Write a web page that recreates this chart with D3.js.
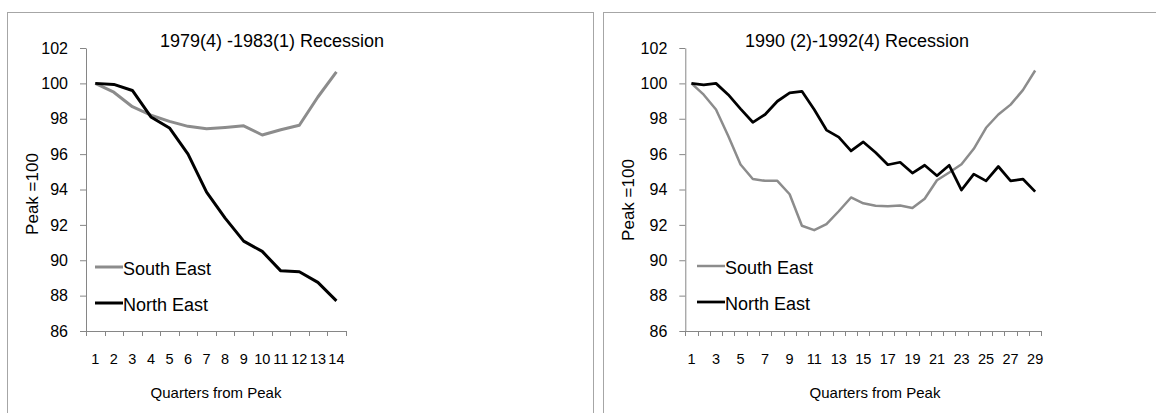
<!DOCTYPE html>
<html>
<head>
<meta charset="utf-8">
<script src="https://cdn.jsdelivr.net/npm/d3@7/dist/d3.min.js"></script>
<style>
body { margin: 0; background: #fff; }
svg text { font-family: "Liberation Sans", Arial, sans-serif; fill: #000; }
</style>
</head>
<body>
<svg id="chart" width="1156" height="413"></svg>
<script>
// 1979(4) - 1983(1) recession, index peak = 100
var quartersA = ["1","2","3","4","5","6","7","8","9","10","11","12","13","14"];
var southEastA = [100, 99.5, 98.68, 98.2, 97.85, 97.57, 97.43, 97.51, 97.6, 97.08, 97.38, 97.63, 99.23, 100.65];
var northEastA = [100, 99.94, 99.6, 98.1, 97.48, 96.0, 93.85, 92.38, 91.08, 90.5, 89.4, 89.35, 88.75, 87.7];

// 1990(2) - 1992(4) recession
var quartersB = ["1","2","3","4","5","6","7","8","9","10","11","12","13","14","15",
                 "16","17","18","19","20","21","22","23","24","25","26","27","28","29"];
var labelsB = ["1","3","5","7","9","11","13","15","17","19","21","23","25","27","29"];
var southEastB = [100, 99.36, 98.52, 97.02, 95.41, 94.59, 94.49, 94.49, 93.73, 91.95,
                  91.7, 92.04, 92.77, 93.55, 93.22, 93.08, 93.05, 93.09, 92.95, 93.48,
                  94.52, 94.96, 95.43, 96.3, 97.49, 98.24, 98.8, 99.62, 100.73];
var northEastB = [100, 99.92, 100.0, 99.36, 98.56, 97.8, 98.24, 98.99, 99.46, 99.55,
                  98.52, 97.36, 96.96, 96.18, 96.69, 96.09, 95.4, 95.54, 94.93, 95.37,
                  94.78, 95.37, 93.97, 94.87, 94.49, 95.3, 94.49, 94.59, 93.88];

var yTicks = [86, 88, 90, 92, 94, 96, 98, 100, 102];
var seriesNames = ["South East", "North East"];

var svg = d3.select("#chart");
var axisColor = "#868686";
var grey = "#8c8c8c";

function drawPanel(cfg) {
    var g = svg.append("g");

    // panel border (runs off the bottom of the picture)
    g.append("rect")
        .attr("x", cfg.frameX + 0.5)
        .attr("y", 12.5)
        .attr("width", cfg.frameW)
        .attr("height", 450)
        .attr("fill", "none")
        .attr("stroke", "#a6a6a6");

    var x = d3.scaleBand().domain(cfg.quarters).range([cfg.left, cfg.right]);
    var y = d3.scaleLinear().domain([86, 102]).range([331, 48]);

    var yAxis = g.append("g")
        .attr("transform", "translate(" + cfg.left + ",0)")
        .attr("color", axisColor)
        .call(d3.axisLeft(y).tickValues(yTicks).tickSize(6).tickSizeOuter(0).tickPadding(12));
    yAxis.selectAll("text").style("font-size", "16px").attr("fill", "#000");

    var xAxis = g.append("g")
        .attr("transform", "translate(0,331)")
        .attr("color", axisColor)
        .call(d3.axisBottom(x).tickValues(cfg.labels).tickSize(0).tickSizeOuter(0).tickPadding(23));
    xAxis.selectAll("text").style("font-size", "14.5px").attr("fill", "#000");

    // excel puts the tick marks between the categories
    var bounds = cfg.quarters.map(function(q){ return x(q); }).concat([x.range()[1]]);
    g.selectAll(".qtick").data(bounds).enter().append("line")
        .attr("class", "qtick")
        .attr("x1", function(d){ return Math.round(d) + 0.5; })
        .attr("x2", function(d){ return Math.round(d) + 0.5; })
        .attr("y1", 331)
        .attr("y2", 336)
        .attr("stroke", axisColor);

    var line = d3.line()
        .x(function(d, i){ return x(cfg.quarters[i]) + x.bandwidth() / 2; })
        .y(function(d){ return y(d); });

    var series = [
        {name: seriesNames[0], values: cfg.southEast, color: grey, width: cfg.greyWidth},
        {name: seriesNames[1], values: cfg.northEast, color: "#000", width: cfg.blackWidth}
    ];

    series.forEach(function(s, k){
        g.append("path")
            .datum(s.values)
            .attr("d", line)
            .attr("fill", "none")
            .attr("stroke", s.color)
            .attr("stroke-width", s.width)
            .attr("stroke-linejoin", "round");

        var ly = cfg.legendY[k];
        g.append("line")
            .attr("x1", cfg.legendX)
            .attr("x2", cfg.legendX + 28)
            .attr("y1", ly)
            .attr("y2", ly)
            .attr("stroke", s.color)
            .attr("stroke-width", s.width);
        g.append("text")
            .attr("x", cfg.legendX + 28)
            .attr("y", ly + 8)
            .style("font-size", "18px")
            .text(s.name);
    });

    g.append("text")
        .attr("x", cfg.titleX)
        .attr("y", 47)
        .attr("text-anchor", "middle")
        .style("font-size", "18px")
        .text(cfg.title);

    g.append("text")
        .attr("x", cfg.xTitleX)
        .attr("y", 398)
        .attr("text-anchor", "middle")
        .style("font-size", "15px")
        .text("Quarters from Peak");

    g.append("text")
        .attr("transform", "translate(" + cfg.yLabelX + "," + cfg.yLabelY + ") rotate(-90)")
        .attr("text-anchor", "middle")
        .style("font-size", "17px")
        .text("Peak =100");
}

drawPanel({
    frameX: 7, frameW: 586,
    left: 86, right: 345.7,
    quarters: quartersA, labels: quartersA,
    southEast: southEastA, northEast: northEastA,
    greyWidth: 3, blackWidth: 3,
    legendX: 95, legendY: [267, 303],
    title: "1979(4) -1983(1) Recession", titleX: 272,
    xTitleX: 216,
    yLabelX: 38, yLabelY: 194
});

drawPanel({
    frameX: 603, frameW: 600,
    left: 685.3, right: 1041.3,
    quarters: quartersB, labels: labelsB,
    southEast: southEastB, northEast: northEastB,
    greyWidth: 2.5, blackWidth: 2.75,
    legendX: 697, legendY: [266, 302],
    title: "1990 (2)-1992(4) Recession", titleX: 857,
    xTitleX: 875,
    yLabelX: 634, yLabelY: 200
});
</script>
</body>
</html>
